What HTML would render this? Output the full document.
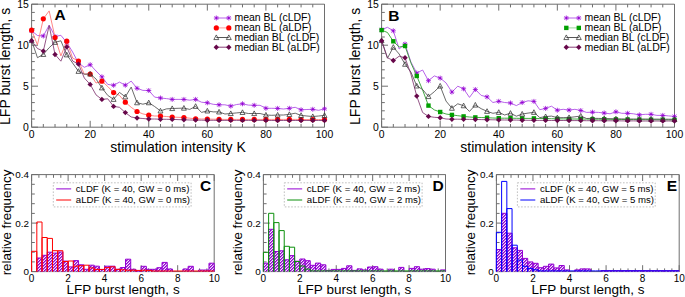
<!DOCTYPE html><html><head><meta charset="utf-8"><style>html,body{margin:0;padding:0;background:#fff;width:685px;height:297px;overflow:hidden}svg{display:block}text{font-family:'Liberation Sans',sans-serif;fill:#000}</style></head><body>
<svg width="685" height="297" viewBox="0 0 685 297">
<rect width="685" height="297" fill="#fff"/>
<defs><pattern id="hatch" patternUnits="userSpaceOnUse" x="0" y="0" width="3" height="3"><g shape-rendering="crispEdges"><rect width="3" height="3" fill="#f4e8fb"/><rect x="0" y="2" width="1" height="1" fill="#9400d3"/><rect x="1" y="1" width="1" height="1" fill="#9400d3"/><rect x="2" y="0" width="1" height="1" fill="#9400d3"/><rect x="1" y="2" width="1" height="1" fill="#b860e0"/><rect x="2" y="1" width="1" height="1" fill="#b860e0"/><rect x="0" y="0" width="1" height="1" fill="#b860e0"/></g></pattern></defs>
<path d="M31.6,4.2H324.5V127.2H31.6Z" fill="none" stroke="#6e6e6e" stroke-width="1"/>
<path d="M31.60,127.2v-6.4M31.60,4.2v6.4M43.32,127.2v-3.2M43.32,4.2v3.2M55.03,127.2v-3.2M55.03,4.2v3.2M66.75,127.2v-3.2M66.75,4.2v3.2M78.46,127.2v-3.2M78.46,4.2v3.2M90.18,127.2v-6.4M90.18,4.2v6.4M101.90,127.2v-3.2M101.90,4.2v3.2M113.61,127.2v-3.2M113.61,4.2v3.2M125.33,127.2v-3.2M125.33,4.2v3.2M137.04,127.2v-3.2M137.04,4.2v3.2M148.76,127.2v-6.4M148.76,4.2v6.4M160.48,127.2v-3.2M160.48,4.2v3.2M172.19,127.2v-3.2M172.19,4.2v3.2M183.91,127.2v-3.2M183.91,4.2v3.2M195.62,127.2v-3.2M195.62,4.2v3.2M207.34,127.2v-6.4M207.34,4.2v6.4M219.06,127.2v-3.2M219.06,4.2v3.2M230.77,127.2v-3.2M230.77,4.2v3.2M242.49,127.2v-3.2M242.49,4.2v3.2M254.20,127.2v-3.2M254.20,4.2v3.2M265.92,127.2v-6.4M265.92,4.2v6.4M277.64,127.2v-3.2M277.64,4.2v3.2M289.35,127.2v-3.2M289.35,4.2v3.2M301.07,127.2v-3.2M301.07,4.2v3.2M312.78,127.2v-3.2M312.78,4.2v3.2M324.50,127.2v-6.4M324.50,4.2v6.4M31.6,127.20h6.4M31.6,119.00h3.2M31.6,110.80h3.2M31.6,102.60h3.2M31.6,94.40h3.2M31.6,86.20h6.4M31.6,78.00h3.2M31.6,69.80h3.2M31.6,61.60h3.2M31.6,53.40h3.2M31.6,45.20h6.4M31.6,37.00h3.2M31.6,28.80h3.2M31.6,20.60h3.2M31.6,12.40h3.2M31.6,4.20h6.4" stroke="#6e6e6e" stroke-width="1" fill="none"/>
<text x="31.60" y="138.2" font-size="10.4" text-anchor="middle" font-weight="normal" >0</text>
<text x="90.18" y="138.2" font-size="10.4" text-anchor="middle" font-weight="normal" >20</text>
<text x="148.76" y="138.2" font-size="10.4" text-anchor="middle" font-weight="normal" >40</text>
<text x="207.34" y="138.2" font-size="10.4" text-anchor="middle" font-weight="normal" >60</text>
<text x="265.92" y="138.2" font-size="10.4" text-anchor="middle" font-weight="normal" >80</text>
<text x="324.50" y="138.2" font-size="10.4" text-anchor="middle" font-weight="normal" >100</text>
<text x="28.80" y="130.90" font-size="10.4" text-anchor="end" font-weight="normal" >0</text>
<text x="28.80" y="89.90" font-size="10.4" text-anchor="end" font-weight="normal" >5</text>
<text x="28.80" y="48.90" font-size="10.4" text-anchor="end" font-weight="normal" >10</text>
<text x="28.80" y="7.90" font-size="10.4" text-anchor="end" font-weight="normal" >15</text>
<text x="178.05" y="151.8" font-size="14" text-anchor="middle" font-weight="normal" >stimulation intensity K</text>
<text transform="translate(10.4,66.3) rotate(-90)" font-size="14" text-anchor="middle">LFP burst length, s</text>
<text x="54.5" y="19.8" font-size="15.5" text-anchor="start" font-weight="bold" >A</text>
<path d="M381.6,4.2H674.5V127.2H381.6Z" fill="none" stroke="#6e6e6e" stroke-width="1"/>
<path d="M381.60,127.2v-6.4M381.60,4.2v6.4M393.32,127.2v-3.2M393.32,4.2v3.2M405.03,127.2v-3.2M405.03,4.2v3.2M416.75,127.2v-3.2M416.75,4.2v3.2M428.46,127.2v-3.2M428.46,4.2v3.2M440.18,127.2v-6.4M440.18,4.2v6.4M451.90,127.2v-3.2M451.90,4.2v3.2M463.61,127.2v-3.2M463.61,4.2v3.2M475.33,127.2v-3.2M475.33,4.2v3.2M487.04,127.2v-3.2M487.04,4.2v3.2M498.76,127.2v-6.4M498.76,4.2v6.4M510.48,127.2v-3.2M510.48,4.2v3.2M522.19,127.2v-3.2M522.19,4.2v3.2M533.91,127.2v-3.2M533.91,4.2v3.2M545.62,127.2v-3.2M545.62,4.2v3.2M557.34,127.2v-6.4M557.34,4.2v6.4M569.06,127.2v-3.2M569.06,4.2v3.2M580.77,127.2v-3.2M580.77,4.2v3.2M592.49,127.2v-3.2M592.49,4.2v3.2M604.20,127.2v-3.2M604.20,4.2v3.2M615.92,127.2v-6.4M615.92,4.2v6.4M627.64,127.2v-3.2M627.64,4.2v3.2M639.35,127.2v-3.2M639.35,4.2v3.2M651.07,127.2v-3.2M651.07,4.2v3.2M662.78,127.2v-3.2M662.78,4.2v3.2M674.50,127.2v-6.4M674.50,4.2v6.4M381.6,127.20h6.4M381.6,119.00h3.2M381.6,110.80h3.2M381.6,102.60h3.2M381.6,94.40h3.2M381.6,86.20h6.4M381.6,78.00h3.2M381.6,69.80h3.2M381.6,61.60h3.2M381.6,53.40h3.2M381.6,45.20h6.4M381.6,37.00h3.2M381.6,28.80h3.2M381.6,20.60h3.2M381.6,12.40h3.2M381.6,4.20h6.4" stroke="#6e6e6e" stroke-width="1" fill="none"/>
<text x="381.60" y="138.2" font-size="10.4" text-anchor="middle" font-weight="normal" >0</text>
<text x="440.18" y="138.2" font-size="10.4" text-anchor="middle" font-weight="normal" >20</text>
<text x="498.76" y="138.2" font-size="10.4" text-anchor="middle" font-weight="normal" >40</text>
<text x="557.34" y="138.2" font-size="10.4" text-anchor="middle" font-weight="normal" >60</text>
<text x="615.92" y="138.2" font-size="10.4" text-anchor="middle" font-weight="normal" >80</text>
<text x="674.50" y="138.2" font-size="10.4" text-anchor="middle" font-weight="normal" >100</text>
<text x="378.80" y="130.90" font-size="10.4" text-anchor="end" font-weight="normal" >0</text>
<text x="378.80" y="89.90" font-size="10.4" text-anchor="end" font-weight="normal" >5</text>
<text x="378.80" y="48.90" font-size="10.4" text-anchor="end" font-weight="normal" >10</text>
<text x="378.80" y="7.90" font-size="10.4" text-anchor="end" font-weight="normal" >15</text>
<text x="528.05" y="151.8" font-size="14" text-anchor="middle" font-weight="normal" >stimulation intensity K</text>
<text transform="translate(360.4,66.3) rotate(-90)" font-size="14" text-anchor="middle">LFP burst length, s</text>
<text x="388.3" y="20.7" font-size="15.5" text-anchor="start" font-weight="bold" >B</text>
<path d="M31.60,30.80L37.46,35.50L43.32,36.00L49.17,25.20L55.03,36.50L60.89,35.30L66.75,42.50L72.61,52.00L78.46,63.00L84.32,67.30L90.18,64.70L96.04,71.00L101.90,76.80L107.75,84.40L113.61,85.30L119.47,82.10L125.33,85.20L131.19,81.10L137.04,88.30L142.90,90.40L148.76,90.50L154.62,97.10L160.48,98.00L166.33,98.60L172.19,99.40L178.05,99.40L183.91,99.40L189.77,100.20L195.62,99.40L201.48,102.20L207.34,102.80L213.20,104.30L219.06,104.80L224.91,104.80L230.77,106.10L236.63,104.50L242.49,103.80L248.35,105.10L254.20,105.30L260.06,105.30L265.92,108.30L271.78,108.30L277.64,108.40L283.49,109.00L289.35,108.30L295.21,107.30L301.07,109.80L306.93,109.50L312.78,109.30L318.64,110.30L324.50,108.80" fill="none" stroke="#b050e8" stroke-width="0.9" stroke-linejoin="round"/>
<path d="M29.10,30.80h5.00M31.60,28.30v5.00M29.73,28.93l3.75,3.75M29.73,32.67l3.75,-3.75" stroke="#9400d3" stroke-width="0.75" fill="none"/><circle cx="31.60" cy="30.80" r="0.7" fill="#9400d3"/>
<path d="M40.82,36.00h5.00M43.32,33.50v5.00M41.45,34.12l3.75,3.75M41.45,37.88l3.75,-3.75" stroke="#9400d3" stroke-width="0.75" fill="none"/><circle cx="43.32" cy="36.00" r="0.7" fill="#9400d3"/>
<path d="M52.53,36.50h5.00M55.03,34.00v5.00M53.16,34.62l3.75,3.75M53.16,38.38l3.75,-3.75" stroke="#9400d3" stroke-width="0.75" fill="none"/><circle cx="55.03" cy="36.50" r="0.7" fill="#9400d3"/>
<path d="M64.25,42.50h5.00M66.75,40.00v5.00M64.88,40.62l3.75,3.75M64.88,44.38l3.75,-3.75" stroke="#9400d3" stroke-width="0.75" fill="none"/><circle cx="66.75" cy="42.50" r="0.7" fill="#9400d3"/>
<path d="M75.96,63.00h5.00M78.46,60.50v5.00M76.58,61.12l3.75,3.75M76.58,64.88l3.75,-3.75" stroke="#9400d3" stroke-width="0.75" fill="none"/><circle cx="78.46" cy="63.00" r="0.7" fill="#9400d3"/>
<path d="M87.68,64.70h5.00M90.18,62.20v5.00M88.31,62.83l3.75,3.75M88.31,66.58l3.75,-3.75" stroke="#9400d3" stroke-width="0.75" fill="none"/><circle cx="90.18" cy="64.70" r="0.7" fill="#9400d3"/>
<path d="M99.40,76.80h5.00M101.90,74.30v5.00M100.03,74.92l3.75,3.75M100.03,78.67l3.75,-3.75" stroke="#9400d3" stroke-width="0.75" fill="none"/><circle cx="101.90" cy="76.80" r="0.7" fill="#9400d3"/>
<path d="M111.11,85.30h5.00M113.61,82.80v5.00M111.73,83.42l3.75,3.75M111.73,87.17l3.75,-3.75" stroke="#9400d3" stroke-width="0.75" fill="none"/><circle cx="113.61" cy="85.30" r="0.7" fill="#9400d3"/>
<path d="M122.83,85.20h5.00M125.33,82.70v5.00M123.45,83.33l3.75,3.75M123.45,87.08l3.75,-3.75" stroke="#9400d3" stroke-width="0.75" fill="none"/><circle cx="125.33" cy="85.20" r="0.7" fill="#9400d3"/>
<path d="M134.54,88.30h5.00M137.04,85.80v5.00M135.16,86.42l3.75,3.75M135.16,90.17l3.75,-3.75" stroke="#9400d3" stroke-width="0.75" fill="none"/><circle cx="137.04" cy="88.30" r="0.7" fill="#9400d3"/>
<path d="M146.26,90.50h5.00M148.76,88.00v5.00M146.88,88.62l3.75,3.75M146.88,92.38l3.75,-3.75" stroke="#9400d3" stroke-width="0.75" fill="none"/><circle cx="148.76" cy="90.50" r="0.7" fill="#9400d3"/>
<path d="M157.98,98.00h5.00M160.48,95.50v5.00M158.60,96.12l3.75,3.75M158.60,99.88l3.75,-3.75" stroke="#9400d3" stroke-width="0.75" fill="none"/><circle cx="160.48" cy="98.00" r="0.7" fill="#9400d3"/>
<path d="M169.69,99.40h5.00M172.19,96.90v5.00M170.31,97.53l3.75,3.75M170.31,101.28l3.75,-3.75" stroke="#9400d3" stroke-width="0.75" fill="none"/><circle cx="172.19" cy="99.40" r="0.7" fill="#9400d3"/>
<path d="M181.41,99.40h5.00M183.91,96.90v5.00M182.03,97.53l3.75,3.75M182.03,101.28l3.75,-3.75" stroke="#9400d3" stroke-width="0.75" fill="none"/><circle cx="183.91" cy="99.40" r="0.7" fill="#9400d3"/>
<path d="M193.12,99.40h5.00M195.62,96.90v5.00M193.75,97.53l3.75,3.75M193.75,101.28l3.75,-3.75" stroke="#9400d3" stroke-width="0.75" fill="none"/><circle cx="195.62" cy="99.40" r="0.7" fill="#9400d3"/>
<path d="M204.84,102.80h5.00M207.34,100.30v5.00M205.47,100.92l3.75,3.75M205.47,104.67l3.75,-3.75" stroke="#9400d3" stroke-width="0.75" fill="none"/><circle cx="207.34" cy="102.80" r="0.7" fill="#9400d3"/>
<path d="M216.56,104.80h5.00M219.06,102.30v5.00M217.19,102.92l3.75,3.75M217.19,106.67l3.75,-3.75" stroke="#9400d3" stroke-width="0.75" fill="none"/><circle cx="219.06" cy="104.80" r="0.7" fill="#9400d3"/>
<path d="M228.27,106.10h5.00M230.77,103.60v5.00M228.90,104.22l3.75,3.75M228.90,107.97l3.75,-3.75" stroke="#9400d3" stroke-width="0.75" fill="none"/><circle cx="230.77" cy="106.10" r="0.7" fill="#9400d3"/>
<path d="M239.99,103.80h5.00M242.49,101.30v5.00M240.62,101.92l3.75,3.75M240.62,105.67l3.75,-3.75" stroke="#9400d3" stroke-width="0.75" fill="none"/><circle cx="242.49" cy="103.80" r="0.7" fill="#9400d3"/>
<path d="M251.70,105.30h5.00M254.20,102.80v5.00M252.32,103.42l3.75,3.75M252.32,107.17l3.75,-3.75" stroke="#9400d3" stroke-width="0.75" fill="none"/><circle cx="254.20" cy="105.30" r="0.7" fill="#9400d3"/>
<path d="M263.42,108.30h5.00M265.92,105.80v5.00M264.05,106.42l3.75,3.75M264.05,110.17l3.75,-3.75" stroke="#9400d3" stroke-width="0.75" fill="none"/><circle cx="265.92" cy="108.30" r="0.7" fill="#9400d3"/>
<path d="M275.14,108.40h5.00M277.64,105.90v5.00M275.76,106.53l3.75,3.75M275.76,110.28l3.75,-3.75" stroke="#9400d3" stroke-width="0.75" fill="none"/><circle cx="277.64" cy="108.40" r="0.7" fill="#9400d3"/>
<path d="M286.85,108.30h5.00M289.35,105.80v5.00M287.48,106.42l3.75,3.75M287.48,110.17l3.75,-3.75" stroke="#9400d3" stroke-width="0.75" fill="none"/><circle cx="289.35" cy="108.30" r="0.7" fill="#9400d3"/>
<path d="M298.57,109.80h5.00M301.07,107.30v5.00M299.19,107.92l3.75,3.75M299.19,111.67l3.75,-3.75" stroke="#9400d3" stroke-width="0.75" fill="none"/><circle cx="301.07" cy="109.80" r="0.7" fill="#9400d3"/>
<path d="M310.28,109.30h5.00M312.78,106.80v5.00M310.90,107.42l3.75,3.75M310.90,111.17l3.75,-3.75" stroke="#9400d3" stroke-width="0.75" fill="none"/><circle cx="312.78" cy="109.30" r="0.7" fill="#9400d3"/>
<path d="M322.00,108.80h5.00M324.50,106.30v5.00M322.62,106.92l3.75,3.75M322.62,110.67l3.75,-3.75" stroke="#9400d3" stroke-width="0.75" fill="none"/><circle cx="324.50" cy="108.80" r="0.7" fill="#9400d3"/>
<path d="M31.60,30.20L37.46,44.80L43.32,18.80L49.17,10.90L55.03,37.50L60.89,55.90L66.75,41.20L72.61,58.00L78.46,61.00L84.32,74.10L90.18,74.00L96.04,83.00L101.90,81.20L107.75,86.50L113.61,92.60L119.47,95.40L125.33,102.20L131.19,107.30L137.04,111.50L142.90,113.90L148.76,115.20L154.62,116.00L160.48,116.00L166.33,116.50L172.19,117.00L178.05,117.30L183.91,117.50L189.77,118.20L195.62,118.80L201.48,119.00L207.34,119.00L213.20,119.20L219.06,119.30L224.91,119.40L230.77,119.40L236.63,119.40L242.49,119.40L248.35,119.40L254.20,119.40L260.06,119.40L265.92,119.40L271.78,119.40L277.64,119.40L283.49,119.40L289.35,119.40L295.21,119.40L301.07,119.50L306.93,119.50L312.78,119.50L318.64,119.50L324.50,119.50" fill="none" stroke="#ff7070" stroke-width="0.85" stroke-linejoin="round"/>
<circle cx="31.6" cy="30.2" r="2.6" fill="#ff0000"/>
<circle cx="43.32" cy="18.8" r="2.6" fill="#ff0000"/>
<circle cx="55.03" cy="37.5" r="2.6" fill="#ff0000"/>
<circle cx="66.75" cy="41.2" r="2.6" fill="#ff0000"/>
<circle cx="78.46" cy="61.0" r="2.6" fill="#ff0000"/>
<circle cx="90.18" cy="74.0" r="2.6" fill="#ff0000"/>
<circle cx="101.9" cy="81.2" r="2.6" fill="#ff0000"/>
<circle cx="113.61" cy="92.6" r="2.6" fill="#ff0000"/>
<circle cx="125.33" cy="102.2" r="2.6" fill="#ff0000"/>
<circle cx="137.04" cy="111.5" r="2.6" fill="#ff0000"/>
<circle cx="148.76" cy="115.2" r="2.6" fill="#ff0000"/>
<circle cx="160.48" cy="116.0" r="2.6" fill="#ff0000"/>
<circle cx="172.19" cy="117.0" r="2.6" fill="#ff0000"/>
<circle cx="183.91" cy="117.5" r="2.6" fill="#ff0000"/>
<circle cx="195.62" cy="118.8" r="2.6" fill="#ff0000"/>
<circle cx="207.34" cy="119.0" r="2.6" fill="#ff0000"/>
<circle cx="219.06" cy="119.3" r="2.6" fill="#ff0000"/>
<circle cx="230.77" cy="119.4" r="2.6" fill="#ff0000"/>
<circle cx="242.49" cy="119.4" r="2.6" fill="#ff0000"/>
<circle cx="254.2" cy="119.4" r="2.6" fill="#ff0000"/>
<circle cx="265.92" cy="119.4" r="2.6" fill="#ff0000"/>
<circle cx="277.64" cy="119.4" r="2.6" fill="#ff0000"/>
<circle cx="289.35" cy="119.4" r="2.6" fill="#ff0000"/>
<circle cx="301.07" cy="119.5" r="2.6" fill="#ff0000"/>
<circle cx="312.78" cy="119.5" r="2.6" fill="#ff0000"/>
<circle cx="324.5" cy="119.5" r="2.6" fill="#ff0000"/>
<path d="M31.60,40.50L37.46,57.70L43.32,54.40L49.17,47.70L55.03,42.30L60.89,40.80L66.75,54.80L72.61,63.00L78.46,71.30L84.32,74.20L90.18,74.00L96.04,79.00L101.90,87.80L107.75,95.40L113.61,99.30L119.47,92.40L125.33,96.80L131.19,87.10L137.04,102.70L142.90,104.20L148.76,102.70L154.62,106.50L160.48,110.90L166.33,108.90L172.19,108.50L178.05,108.30L183.91,108.10L189.77,109.40L195.62,106.30L201.48,112.40L207.34,110.90L213.20,111.90L219.06,111.90L224.91,114.00L230.77,113.50L236.63,112.90L242.49,112.40L248.35,113.50L254.20,113.50L260.06,113.50L265.92,115.00L271.78,115.30L277.64,115.00L283.49,115.00L289.35,114.40L295.21,113.20L301.07,115.40L306.93,116.00L312.78,116.50L318.64,116.00L324.50,115.40" fill="none" stroke="#444" stroke-width="0.8" stroke-linejoin="round"/>
<path d="M31.60,37.93L34.05,42.58H29.15Z" fill="none" stroke="#333" stroke-width="0.75"/>
<path d="M43.32,51.83L45.77,56.48H40.87Z" fill="none" stroke="#333" stroke-width="0.75"/>
<path d="M55.03,39.73L57.48,44.38H52.58Z" fill="none" stroke="#333" stroke-width="0.75"/>
<path d="M66.75,52.23L69.20,56.88H64.30Z" fill="none" stroke="#333" stroke-width="0.75"/>
<path d="M78.46,68.73L80.91,73.38H76.01Z" fill="none" stroke="#333" stroke-width="0.75"/>
<path d="M90.18,71.43L92.63,76.08H87.73Z" fill="none" stroke="#333" stroke-width="0.75"/>
<path d="M101.90,85.23L104.35,89.88H99.45Z" fill="none" stroke="#333" stroke-width="0.75"/>
<path d="M113.61,96.73L116.06,101.38H111.16Z" fill="none" stroke="#333" stroke-width="0.75"/>
<path d="M125.33,94.23L127.78,98.88H122.88Z" fill="none" stroke="#333" stroke-width="0.75"/>
<path d="M137.04,100.13L139.49,104.78H134.59Z" fill="none" stroke="#333" stroke-width="0.75"/>
<path d="M148.76,100.13L151.21,104.78H146.31Z" fill="none" stroke="#333" stroke-width="0.75"/>
<path d="M160.48,108.33L162.93,112.98H158.03Z" fill="none" stroke="#333" stroke-width="0.75"/>
<path d="M172.19,105.93L174.64,110.58H169.74Z" fill="none" stroke="#333" stroke-width="0.75"/>
<path d="M183.91,105.53L186.36,110.18H181.46Z" fill="none" stroke="#333" stroke-width="0.75"/>
<path d="M195.62,103.73L198.07,108.38H193.17Z" fill="none" stroke="#333" stroke-width="0.75"/>
<path d="M207.34,108.33L209.79,112.98H204.89Z" fill="none" stroke="#333" stroke-width="0.75"/>
<path d="M219.06,109.33L221.51,113.98H216.61Z" fill="none" stroke="#333" stroke-width="0.75"/>
<path d="M230.77,110.93L233.22,115.58H228.32Z" fill="none" stroke="#333" stroke-width="0.75"/>
<path d="M242.49,109.83L244.94,114.48H240.04Z" fill="none" stroke="#333" stroke-width="0.75"/>
<path d="M254.20,110.93L256.65,115.58H251.75Z" fill="none" stroke="#333" stroke-width="0.75"/>
<path d="M265.92,112.43L268.37,117.08H263.47Z" fill="none" stroke="#333" stroke-width="0.75"/>
<path d="M277.64,112.43L280.09,117.08H275.19Z" fill="none" stroke="#333" stroke-width="0.75"/>
<path d="M289.35,111.83L291.80,116.48H286.90Z" fill="none" stroke="#333" stroke-width="0.75"/>
<path d="M301.07,112.83L303.52,117.48H298.62Z" fill="none" stroke="#333" stroke-width="0.75"/>
<path d="M312.78,113.93L315.23,118.58H310.33Z" fill="none" stroke="#333" stroke-width="0.75"/>
<path d="M324.50,112.83L326.95,117.48H322.05Z" fill="none" stroke="#333" stroke-width="0.75"/>
<path d="M31.60,40.80L37.46,48.50L43.32,51.10L49.17,25.50L55.03,54.50L60.89,61.20L66.75,46.90L72.61,61.00L78.46,64.10L84.32,78.00L90.18,84.40L96.04,94.90L101.90,99.40L107.75,98.80L113.61,106.40L119.47,107.30L125.33,112.60L131.19,117.00L137.04,118.00L142.90,118.50L148.76,119.00L154.62,119.00L160.48,119.20L166.33,119.30L172.19,119.40L178.05,119.60L183.91,119.80L189.77,120.00L195.62,120.10L201.48,120.20L207.34,120.30L213.20,120.30L219.06,120.40L224.91,120.40L230.77,120.40L236.63,120.40L242.49,120.40L248.35,120.40L254.20,120.40L260.06,120.40L265.92,120.40L271.78,120.50L277.64,120.50L283.49,120.50L289.35,120.50L295.21,120.50L301.07,120.50L306.93,120.50L312.78,120.50L318.64,120.50L324.50,120.50" fill="none" stroke="#7a2a68" stroke-width="0.8" stroke-linejoin="round"/>
<path d="M31.6,38.099999999999994L34.300000000000004,40.8L31.6,43.5L28.900000000000002,40.8Z" fill="#67074a"/>
<path d="M43.32,48.4L46.02,51.1L43.32,53.800000000000004L40.62,51.1Z" fill="#67074a"/>
<path d="M55.03,51.8L57.730000000000004,54.5L55.03,57.2L52.33,54.5Z" fill="#67074a"/>
<path d="M66.75,44.199999999999996L69.45,46.9L66.75,49.6L64.05,46.9Z" fill="#67074a"/>
<path d="M78.46,61.39999999999999L81.16,64.1L78.46,66.8L75.75999999999999,64.1Z" fill="#67074a"/>
<path d="M90.18,81.7L92.88000000000001,84.4L90.18,87.10000000000001L87.48,84.4Z" fill="#67074a"/>
<path d="M101.9,96.7L104.60000000000001,99.4L101.9,102.10000000000001L99.2,99.4Z" fill="#67074a"/>
<path d="M113.61,103.7L116.31,106.4L113.61,109.10000000000001L110.91,106.4Z" fill="#67074a"/>
<path d="M125.33,109.89999999999999L128.03,112.6L125.33,115.3L122.63,112.6Z" fill="#67074a"/>
<path d="M137.04,115.3L139.73999999999998,118.0L137.04,120.7L134.34,118.0Z" fill="#67074a"/>
<path d="M148.76,116.3L151.45999999999998,119.0L148.76,121.7L146.06,119.0Z" fill="#67074a"/>
<path d="M160.48,116.5L163.17999999999998,119.2L160.48,121.9L157.78,119.2Z" fill="#67074a"/>
<path d="M172.19,116.7L174.89,119.4L172.19,122.10000000000001L169.49,119.4Z" fill="#67074a"/>
<path d="M183.91,117.1L186.60999999999999,119.8L183.91,122.5L181.21,119.8Z" fill="#67074a"/>
<path d="M195.62,117.39999999999999L198.32,120.1L195.62,122.8L192.92000000000002,120.1Z" fill="#67074a"/>
<path d="M207.34,117.6L210.04,120.3L207.34,123.0L204.64000000000001,120.3Z" fill="#67074a"/>
<path d="M219.06,117.7L221.76,120.4L219.06,123.10000000000001L216.36,120.4Z" fill="#67074a"/>
<path d="M230.77,117.7L233.47,120.4L230.77,123.10000000000001L228.07000000000002,120.4Z" fill="#67074a"/>
<path d="M242.49,117.7L245.19,120.4L242.49,123.10000000000001L239.79000000000002,120.4Z" fill="#67074a"/>
<path d="M254.2,117.7L256.9,120.4L254.2,123.10000000000001L251.5,120.4Z" fill="#67074a"/>
<path d="M265.92,117.7L268.62,120.4L265.92,123.10000000000001L263.22,120.4Z" fill="#67074a"/>
<path d="M277.64,117.8L280.34,120.5L277.64,123.2L274.94,120.5Z" fill="#67074a"/>
<path d="M289.35,117.8L292.05,120.5L289.35,123.2L286.65000000000003,120.5Z" fill="#67074a"/>
<path d="M301.07,117.8L303.77,120.5L301.07,123.2L298.37,120.5Z" fill="#67074a"/>
<path d="M312.78,117.8L315.47999999999996,120.5L312.78,123.2L310.08,120.5Z" fill="#67074a"/>
<path d="M324.5,117.8L327.2,120.5L324.5,123.2L321.8,120.5Z" fill="#67074a"/>
<path d="M216.3,18.0H228.8" stroke="#b050e8" stroke-width="0.9"/>
<path d="M213.80,18.00h5.00M216.30,15.50v5.00M214.43,16.12l3.75,3.75M214.43,19.88l3.75,-3.75" stroke="#9400d3" stroke-width="0.75" fill="none"/><circle cx="216.30" cy="18.00" r="0.7" fill="#9400d3"/>
<path d="M226.30,18.00h5.00M228.80,15.50v5.00M226.93,16.12l3.75,3.75M226.93,19.88l3.75,-3.75" stroke="#9400d3" stroke-width="0.75" fill="none"/><circle cx="228.80" cy="18.00" r="0.7" fill="#9400d3"/>
<text x="234.4" y="21.3" font-size="10.5" text-anchor="start" font-weight="normal" >mean BL (cLDF)</text>
<path d="M216.3,27.9H228.8" stroke="#ff9090" stroke-width="0.9"/>
<circle cx="216.3" cy="27.9" r="2.6" fill="#ff0000"/>
<circle cx="228.8" cy="27.9" r="2.6" fill="#ff0000"/>
<text x="234.4" y="31.2" font-size="10.5" text-anchor="start" font-weight="normal" >mean BL (aLDF)</text>
<path d="M216.3,37.5H228.8" stroke="#444" stroke-width="0.9"/>
<path d="M216.30,34.93L218.75,39.58H213.85Z" fill="none" stroke="#333" stroke-width="0.75"/>
<path d="M228.80,34.93L231.25,39.58H226.35Z" fill="none" stroke="#333" stroke-width="0.75"/>
<text x="234.4" y="40.8" font-size="10.5" text-anchor="start" font-weight="normal" >median BL (cLDF)</text>
<path d="M216.3,47.2H228.8" stroke="#7a2a68" stroke-width="0.9"/>
<path d="M216.3,44.5L219.0,47.2L216.3,49.900000000000006L213.60000000000002,47.2Z" fill="#67074a"/>
<path d="M228.8,44.5L231.5,47.2L228.8,49.900000000000006L226.10000000000002,47.2Z" fill="#67074a"/>
<text x="234.4" y="50.5" font-size="10.5" text-anchor="start" font-weight="normal" >median BL (aLDF)</text>
<path d="M381.60,29.70L387.46,27.30L393.32,30.80L399.17,49.00L405.03,44.00L410.89,62.00L416.75,73.00L422.61,70.00L428.46,80.70L434.32,75.90L440.18,78.10L446.04,82.90L451.90,92.10L457.75,86.20L463.61,88.80L469.47,97.40L475.33,89.50L481.19,95.40L487.04,96.90L492.90,102.50L498.76,101.30L504.62,102.50L510.48,103.00L516.33,105.60L522.19,102.50L528.05,100.80L533.91,101.40L539.77,109.70L545.62,108.40L551.48,106.20L557.34,110.20L563.20,109.30L569.06,110.10L574.91,109.30L580.77,110.50L586.63,112.40L592.49,112.20L598.35,112.40L604.20,113.00L610.06,113.80L615.92,111.80L621.78,113.30L627.64,113.30L633.49,113.80L639.35,114.90L645.21,114.30L651.07,114.30L656.93,115.40L662.78,115.40L668.64,115.90L674.50,116.40" fill="none" stroke="#b050e8" stroke-width="0.9" stroke-linejoin="round"/>
<path d="M379.10,29.70h5.00M381.60,27.20v5.00M379.73,27.82l3.75,3.75M379.73,31.57l3.75,-3.75" stroke="#9400d3" stroke-width="0.75" fill="none"/><circle cx="381.60" cy="29.70" r="0.7" fill="#9400d3"/>
<path d="M390.82,30.80h5.00M393.32,28.30v5.00M391.44,28.93l3.75,3.75M391.44,32.67l3.75,-3.75" stroke="#9400d3" stroke-width="0.75" fill="none"/><circle cx="393.32" cy="30.80" r="0.7" fill="#9400d3"/>
<path d="M402.53,44.00h5.00M405.03,41.50v5.00M403.15,42.12l3.75,3.75M403.15,45.88l3.75,-3.75" stroke="#9400d3" stroke-width="0.75" fill="none"/><circle cx="405.03" cy="44.00" r="0.7" fill="#9400d3"/>
<path d="M414.25,73.00h5.00M416.75,70.50v5.00M414.88,71.12l3.75,3.75M414.88,74.88l3.75,-3.75" stroke="#9400d3" stroke-width="0.75" fill="none"/><circle cx="416.75" cy="73.00" r="0.7" fill="#9400d3"/>
<path d="M425.96,80.70h5.00M428.46,78.20v5.00M426.58,78.83l3.75,3.75M426.58,82.58l3.75,-3.75" stroke="#9400d3" stroke-width="0.75" fill="none"/><circle cx="428.46" cy="80.70" r="0.7" fill="#9400d3"/>
<path d="M437.68,78.10h5.00M440.18,75.60v5.00M438.31,76.22l3.75,3.75M438.31,79.97l3.75,-3.75" stroke="#9400d3" stroke-width="0.75" fill="none"/><circle cx="440.18" cy="78.10" r="0.7" fill="#9400d3"/>
<path d="M449.40,92.10h5.00M451.90,89.60v5.00M450.02,90.22l3.75,3.75M450.02,93.97l3.75,-3.75" stroke="#9400d3" stroke-width="0.75" fill="none"/><circle cx="451.90" cy="92.10" r="0.7" fill="#9400d3"/>
<path d="M461.11,88.80h5.00M463.61,86.30v5.00M461.74,86.92l3.75,3.75M461.74,90.67l3.75,-3.75" stroke="#9400d3" stroke-width="0.75" fill="none"/><circle cx="463.61" cy="88.80" r="0.7" fill="#9400d3"/>
<path d="M472.83,89.50h5.00M475.33,87.00v5.00M473.45,87.62l3.75,3.75M473.45,91.38l3.75,-3.75" stroke="#9400d3" stroke-width="0.75" fill="none"/><circle cx="475.33" cy="89.50" r="0.7" fill="#9400d3"/>
<path d="M484.54,96.90h5.00M487.04,94.40v5.00M485.17,95.03l3.75,3.75M485.17,98.78l3.75,-3.75" stroke="#9400d3" stroke-width="0.75" fill="none"/><circle cx="487.04" cy="96.90" r="0.7" fill="#9400d3"/>
<path d="M496.26,101.30h5.00M498.76,98.80v5.00M496.88,99.42l3.75,3.75M496.88,103.17l3.75,-3.75" stroke="#9400d3" stroke-width="0.75" fill="none"/><circle cx="498.76" cy="101.30" r="0.7" fill="#9400d3"/>
<path d="M507.98,103.00h5.00M510.48,100.50v5.00M508.61,101.12l3.75,3.75M508.61,104.88l3.75,-3.75" stroke="#9400d3" stroke-width="0.75" fill="none"/><circle cx="510.48" cy="103.00" r="0.7" fill="#9400d3"/>
<path d="M519.69,102.50h5.00M522.19,100.00v5.00M520.32,100.62l3.75,3.75M520.32,104.38l3.75,-3.75" stroke="#9400d3" stroke-width="0.75" fill="none"/><circle cx="522.19" cy="102.50" r="0.7" fill="#9400d3"/>
<path d="M531.41,101.40h5.00M533.91,98.90v5.00M532.03,99.53l3.75,3.75M532.03,103.28l3.75,-3.75" stroke="#9400d3" stroke-width="0.75" fill="none"/><circle cx="533.91" cy="101.40" r="0.7" fill="#9400d3"/>
<path d="M543.12,108.40h5.00M545.62,105.90v5.00M543.75,106.53l3.75,3.75M543.75,110.28l3.75,-3.75" stroke="#9400d3" stroke-width="0.75" fill="none"/><circle cx="545.62" cy="108.40" r="0.7" fill="#9400d3"/>
<path d="M554.84,110.20h5.00M557.34,107.70v5.00M555.47,108.33l3.75,3.75M555.47,112.08l3.75,-3.75" stroke="#9400d3" stroke-width="0.75" fill="none"/><circle cx="557.34" cy="110.20" r="0.7" fill="#9400d3"/>
<path d="M566.56,110.10h5.00M569.06,107.60v5.00M567.18,108.22l3.75,3.75M567.18,111.97l3.75,-3.75" stroke="#9400d3" stroke-width="0.75" fill="none"/><circle cx="569.06" cy="110.10" r="0.7" fill="#9400d3"/>
<path d="M578.27,110.50h5.00M580.77,108.00v5.00M578.89,108.62l3.75,3.75M578.89,112.38l3.75,-3.75" stroke="#9400d3" stroke-width="0.75" fill="none"/><circle cx="580.77" cy="110.50" r="0.7" fill="#9400d3"/>
<path d="M589.99,112.20h5.00M592.49,109.70v5.00M590.62,110.33l3.75,3.75M590.62,114.08l3.75,-3.75" stroke="#9400d3" stroke-width="0.75" fill="none"/><circle cx="592.49" cy="112.20" r="0.7" fill="#9400d3"/>
<path d="M601.70,113.00h5.00M604.20,110.50v5.00M602.33,111.12l3.75,3.75M602.33,114.88l3.75,-3.75" stroke="#9400d3" stroke-width="0.75" fill="none"/><circle cx="604.20" cy="113.00" r="0.7" fill="#9400d3"/>
<path d="M613.42,111.80h5.00M615.92,109.30v5.00M614.04,109.92l3.75,3.75M614.04,113.67l3.75,-3.75" stroke="#9400d3" stroke-width="0.75" fill="none"/><circle cx="615.92" cy="111.80" r="0.7" fill="#9400d3"/>
<path d="M625.14,113.30h5.00M627.64,110.80v5.00M625.76,111.42l3.75,3.75M625.76,115.17l3.75,-3.75" stroke="#9400d3" stroke-width="0.75" fill="none"/><circle cx="627.64" cy="113.30" r="0.7" fill="#9400d3"/>
<path d="M636.85,114.90h5.00M639.35,112.40v5.00M637.48,113.03l3.75,3.75M637.48,116.78l3.75,-3.75" stroke="#9400d3" stroke-width="0.75" fill="none"/><circle cx="639.35" cy="114.90" r="0.7" fill="#9400d3"/>
<path d="M648.57,114.30h5.00M651.07,111.80v5.00M649.20,112.42l3.75,3.75M649.20,116.17l3.75,-3.75" stroke="#9400d3" stroke-width="0.75" fill="none"/><circle cx="651.07" cy="114.30" r="0.7" fill="#9400d3"/>
<path d="M660.28,115.40h5.00M662.78,112.90v5.00M660.90,113.53l3.75,3.75M660.90,117.28l3.75,-3.75" stroke="#9400d3" stroke-width="0.75" fill="none"/><circle cx="662.78" cy="115.40" r="0.7" fill="#9400d3"/>
<path d="M672.00,116.40h5.00M674.50,113.90v5.00M672.62,114.53l3.75,3.75M672.62,118.28l3.75,-3.75" stroke="#9400d3" stroke-width="0.75" fill="none"/><circle cx="674.50" cy="116.40" r="0.7" fill="#9400d3"/>
<path d="M381.60,30.10L387.46,32.50L393.32,41.30L399.17,47.00L405.03,46.00L410.89,62.80L416.75,76.00L422.61,90.00L428.46,105.60L434.32,109.90L440.18,112.00L446.04,114.00L451.90,114.90L457.75,115.70L463.61,116.40L469.47,117.00L475.33,117.40L481.19,117.50L487.04,117.70L492.90,118.00L498.76,118.20L504.62,118.20L510.48,118.20L516.33,118.30L522.19,118.40L528.05,118.40L533.91,118.40L539.77,118.50L545.62,118.60L551.48,118.70L557.34,118.80L563.20,118.90L569.06,119.00L574.91,119.00L580.77,119.10L586.63,119.10L592.49,119.20L598.35,119.20L604.20,119.30L610.06,119.30L615.92,119.40L621.78,119.50L627.64,119.50L633.49,119.60L639.35,119.60L645.21,119.70L651.07,119.70L656.93,119.80L662.78,119.80L668.64,119.90L674.50,119.90" fill="none" stroke="#30a030" stroke-width="0.9" stroke-linejoin="round"/>
<rect x="379.40000000000003" y="27.900000000000002" width="4.4" height="4.4" fill="#00a000"/>
<rect x="391.12" y="39.099999999999994" width="4.4" height="4.4" fill="#00a000"/>
<rect x="402.83" y="43.8" width="4.4" height="4.4" fill="#00a000"/>
<rect x="414.55" y="73.8" width="4.4" height="4.4" fill="#00a000"/>
<rect x="426.26" y="103.39999999999999" width="4.4" height="4.4" fill="#00a000"/>
<rect x="437.98" y="109.8" width="4.4" height="4.4" fill="#00a000"/>
<rect x="449.7" y="112.7" width="4.4" height="4.4" fill="#00a000"/>
<rect x="461.41" y="114.2" width="4.4" height="4.4" fill="#00a000"/>
<rect x="473.13" y="115.2" width="4.4" height="4.4" fill="#00a000"/>
<rect x="484.84000000000003" y="115.5" width="4.4" height="4.4" fill="#00a000"/>
<rect x="496.56" y="116.0" width="4.4" height="4.4" fill="#00a000"/>
<rect x="508.28000000000003" y="116.0" width="4.4" height="4.4" fill="#00a000"/>
<rect x="519.99" y="116.2" width="4.4" height="4.4" fill="#00a000"/>
<rect x="531.7099999999999" y="116.2" width="4.4" height="4.4" fill="#00a000"/>
<rect x="543.42" y="116.39999999999999" width="4.4" height="4.4" fill="#00a000"/>
<rect x="555.14" y="116.6" width="4.4" height="4.4" fill="#00a000"/>
<rect x="566.8599999999999" y="116.8" width="4.4" height="4.4" fill="#00a000"/>
<rect x="578.5699999999999" y="116.89999999999999" width="4.4" height="4.4" fill="#00a000"/>
<rect x="590.29" y="117.0" width="4.4" height="4.4" fill="#00a000"/>
<rect x="602.0" y="117.1" width="4.4" height="4.4" fill="#00a000"/>
<rect x="613.7199999999999" y="117.2" width="4.4" height="4.4" fill="#00a000"/>
<rect x="625.4399999999999" y="117.3" width="4.4" height="4.4" fill="#00a000"/>
<rect x="637.15" y="117.39999999999999" width="4.4" height="4.4" fill="#00a000"/>
<rect x="648.87" y="117.5" width="4.4" height="4.4" fill="#00a000"/>
<rect x="660.5799999999999" y="117.6" width="4.4" height="4.4" fill="#00a000"/>
<rect x="672.3" y="117.7" width="4.4" height="4.4" fill="#00a000"/>
<path d="M381.60,40.50L387.46,58.20L393.32,47.20L399.17,54.00L405.03,64.20L410.89,72.00L416.75,85.90L422.61,89.50L428.46,96.50L434.32,91.70L440.18,86.00L446.04,101.10L451.90,108.20L457.75,103.80L463.61,105.70L469.47,111.40L475.33,105.00L481.19,108.70L487.04,111.30L492.90,113.30L498.76,112.30L504.62,115.00L510.48,113.20L516.33,116.20L522.19,114.00L528.05,113.10L533.91,112.30L539.77,117.60L545.62,116.60L551.48,116.10L557.34,117.70L563.20,117.60L569.06,117.50L574.91,116.80L580.77,116.00L586.63,118.50L592.49,118.30L598.35,118.40L604.20,118.50L610.06,118.70L615.92,118.80L621.78,118.90L627.64,119.00L633.49,119.00L639.35,119.00L645.21,119.00L651.07,119.10L656.93,119.10L662.78,119.20L668.64,119.20L674.50,119.30" fill="none" stroke="#444" stroke-width="0.8" stroke-linejoin="round"/>
<path d="M381.60,37.93L384.05,42.58H379.15Z" fill="none" stroke="#333" stroke-width="0.75"/>
<path d="M393.32,44.63L395.77,49.28H390.87Z" fill="none" stroke="#333" stroke-width="0.75"/>
<path d="M405.03,61.63L407.48,66.28H402.58Z" fill="none" stroke="#333" stroke-width="0.75"/>
<path d="M416.75,83.33L419.20,87.98H414.30Z" fill="none" stroke="#333" stroke-width="0.75"/>
<path d="M428.46,93.93L430.91,98.58H426.01Z" fill="none" stroke="#333" stroke-width="0.75"/>
<path d="M440.18,83.43L442.63,88.08H437.73Z" fill="none" stroke="#333" stroke-width="0.75"/>
<path d="M451.90,105.63L454.35,110.28H449.45Z" fill="none" stroke="#333" stroke-width="0.75"/>
<path d="M463.61,103.13L466.06,107.78H461.16Z" fill="none" stroke="#333" stroke-width="0.75"/>
<path d="M475.33,102.43L477.78,107.08H472.88Z" fill="none" stroke="#333" stroke-width="0.75"/>
<path d="M487.04,108.73L489.49,113.38H484.59Z" fill="none" stroke="#333" stroke-width="0.75"/>
<path d="M498.76,109.73L501.21,114.38H496.31Z" fill="none" stroke="#333" stroke-width="0.75"/>
<path d="M510.48,110.63L512.93,115.28H508.03Z" fill="none" stroke="#333" stroke-width="0.75"/>
<path d="M522.19,111.43L524.64,116.08H519.74Z" fill="none" stroke="#333" stroke-width="0.75"/>
<path d="M533.91,109.73L536.36,114.38H531.46Z" fill="none" stroke="#333" stroke-width="0.75"/>
<path d="M545.62,114.03L548.07,118.68H543.17Z" fill="none" stroke="#333" stroke-width="0.75"/>
<path d="M557.34,115.13L559.79,119.78H554.89Z" fill="none" stroke="#333" stroke-width="0.75"/>
<path d="M569.06,114.93L571.51,119.58H566.61Z" fill="none" stroke="#333" stroke-width="0.75"/>
<path d="M580.77,113.43L583.22,118.08H578.32Z" fill="none" stroke="#333" stroke-width="0.75"/>
<path d="M592.49,115.73L594.94,120.38H590.04Z" fill="none" stroke="#333" stroke-width="0.75"/>
<path d="M604.20,115.93L606.65,120.58H601.75Z" fill="none" stroke="#333" stroke-width="0.75"/>
<path d="M615.92,116.23L618.37,120.88H613.47Z" fill="none" stroke="#333" stroke-width="0.75"/>
<path d="M627.64,116.43L630.09,121.08H625.19Z" fill="none" stroke="#333" stroke-width="0.75"/>
<path d="M639.35,116.43L641.80,121.08H636.90Z" fill="none" stroke="#333" stroke-width="0.75"/>
<path d="M651.07,116.53L653.52,121.18H648.62Z" fill="none" stroke="#333" stroke-width="0.75"/>
<path d="M662.78,116.63L665.23,121.28H660.33Z" fill="none" stroke="#333" stroke-width="0.75"/>
<path d="M674.50,116.73L676.95,121.38H672.05Z" fill="none" stroke="#333" stroke-width="0.75"/>
<path d="M381.60,40.70L387.46,57.80L393.32,60.50L399.17,56.20L405.03,57.70L410.89,74.00L416.75,96.10L422.61,112.50L428.46,116.40L434.32,117.30L440.18,117.70L446.04,119.00L451.90,119.20L457.75,119.20L463.61,119.30L469.47,119.40L475.33,119.50L481.19,119.60L487.04,119.70L492.90,119.80L498.76,119.90L504.62,120.00L510.48,120.00L516.33,120.10L522.19,120.20L528.05,120.30L533.91,120.30L539.77,120.40L545.62,120.40L551.48,120.50L557.34,120.50L563.20,120.50L569.06,120.60L574.91,120.60L580.77,120.60L586.63,120.70L592.49,120.70L598.35,120.70L604.20,120.80L610.06,120.80L615.92,120.80L621.78,120.90L627.64,120.90L633.49,120.90L639.35,121.00L645.21,121.00L651.07,121.00L656.93,121.00L662.78,121.00L668.64,121.00L674.50,121.00" fill="none" stroke="#7a2a68" stroke-width="0.8" stroke-linejoin="round"/>
<path d="M381.6,38.0L384.3,40.7L381.6,43.400000000000006L378.90000000000003,40.7Z" fill="#67074a"/>
<path d="M393.32,57.8L396.02,60.5L393.32,63.2L390.62,60.5Z" fill="#67074a"/>
<path d="M405.03,55.0L407.72999999999996,57.7L405.03,60.400000000000006L402.33,57.7Z" fill="#67074a"/>
<path d="M416.75,93.39999999999999L419.45,96.1L416.75,98.8L414.05,96.1Z" fill="#67074a"/>
<path d="M428.46,113.7L431.15999999999997,116.4L428.46,119.10000000000001L425.76,116.4Z" fill="#67074a"/>
<path d="M440.18,115.0L442.88,117.7L440.18,120.4L437.48,117.7Z" fill="#67074a"/>
<path d="M451.9,116.5L454.59999999999997,119.2L451.9,121.9L449.2,119.2Z" fill="#67074a"/>
<path d="M463.61,116.6L466.31,119.3L463.61,122.0L460.91,119.3Z" fill="#67074a"/>
<path d="M475.33,116.8L478.03,119.5L475.33,122.2L472.63,119.5Z" fill="#67074a"/>
<path d="M487.04,117.0L489.74,119.7L487.04,122.4L484.34000000000003,119.7Z" fill="#67074a"/>
<path d="M498.76,117.2L501.46,119.9L498.76,122.60000000000001L496.06,119.9Z" fill="#67074a"/>
<path d="M510.48,117.3L513.1800000000001,120.0L510.48,122.7L507.78000000000003,120.0Z" fill="#67074a"/>
<path d="M522.19,117.5L524.8900000000001,120.2L522.19,122.9L519.49,120.2Z" fill="#67074a"/>
<path d="M533.91,117.6L536.61,120.3L533.91,123.0L531.2099999999999,120.3Z" fill="#67074a"/>
<path d="M545.62,117.7L548.32,120.4L545.62,123.10000000000001L542.92,120.4Z" fill="#67074a"/>
<path d="M557.34,117.8L560.0400000000001,120.5L557.34,123.2L554.64,120.5Z" fill="#67074a"/>
<path d="M569.06,117.89999999999999L571.76,120.6L569.06,123.3L566.3599999999999,120.6Z" fill="#67074a"/>
<path d="M580.77,117.89999999999999L583.47,120.6L580.77,123.3L578.0699999999999,120.6Z" fill="#67074a"/>
<path d="M592.49,118.0L595.19,120.7L592.49,123.4L589.79,120.7Z" fill="#67074a"/>
<path d="M604.2,118.1L606.9000000000001,120.8L604.2,123.5L601.5,120.8Z" fill="#67074a"/>
<path d="M615.92,118.1L618.62,120.8L615.92,123.5L613.2199999999999,120.8Z" fill="#67074a"/>
<path d="M627.64,118.2L630.34,120.9L627.64,123.60000000000001L624.9399999999999,120.9Z" fill="#67074a"/>
<path d="M639.35,118.3L642.0500000000001,121.0L639.35,123.7L636.65,121.0Z" fill="#67074a"/>
<path d="M651.07,118.3L653.7700000000001,121.0L651.07,123.7L648.37,121.0Z" fill="#67074a"/>
<path d="M662.78,118.3L665.48,121.0L662.78,123.7L660.0799999999999,121.0Z" fill="#67074a"/>
<path d="M674.5,118.3L677.2,121.0L674.5,123.7L671.8,121.0Z" fill="#67074a"/>
<path d="M566.3,18.0H578.8" stroke="#b050e8" stroke-width="0.9"/>
<path d="M563.80,18.00h5.00M566.30,15.50v5.00M564.42,16.12l3.75,3.75M564.42,19.88l3.75,-3.75" stroke="#9400d3" stroke-width="0.75" fill="none"/><circle cx="566.30" cy="18.00" r="0.7" fill="#9400d3"/>
<path d="M576.30,18.00h5.00M578.80,15.50v5.00M576.92,16.12l3.75,3.75M576.92,19.88l3.75,-3.75" stroke="#9400d3" stroke-width="0.75" fill="none"/><circle cx="578.80" cy="18.00" r="0.7" fill="#9400d3"/>
<text x="584.4" y="21.3" font-size="10.5" text-anchor="start" font-weight="normal" >mean BL (cLDF)</text>
<path d="M566.3,27.9H578.8" stroke="#90d090" stroke-width="0.9"/>
<rect x="564.0999999999999" y="25.7" width="4.4" height="4.4" fill="#00a000"/>
<rect x="576.5999999999999" y="25.7" width="4.4" height="4.4" fill="#00a000"/>
<text x="584.4" y="31.2" font-size="10.5" text-anchor="start" font-weight="normal" >mean BL (aLDF)</text>
<path d="M566.3,37.5H578.8" stroke="#444" stroke-width="0.9"/>
<path d="M566.30,34.93L568.75,39.58H563.85Z" fill="none" stroke="#333" stroke-width="0.75"/>
<path d="M578.80,34.93L581.25,39.58H576.35Z" fill="none" stroke="#333" stroke-width="0.75"/>
<text x="584.4" y="40.8" font-size="10.5" text-anchor="start" font-weight="normal" >median BL (cLDF)</text>
<path d="M566.3,47.2H578.8" stroke="#7a2a68" stroke-width="0.9"/>
<path d="M566.3,44.5L569.0,47.2L566.3,49.900000000000006L563.5999999999999,47.2Z" fill="#67074a"/>
<path d="M578.8,44.5L581.5,47.2L578.8,49.900000000000006L576.0999999999999,47.2Z" fill="#67074a"/>
<text x="584.4" y="50.5" font-size="10.5" text-anchor="start" font-weight="normal" >median BL (aLDF)</text>
<path d="M31.6,174.6H214.2V271.6H31.6Z" fill="none" stroke="#6e6e6e" stroke-width="1"/>
<path d="M31.60,271.6v-6.4M31.60,174.6v6.4M38.90,271.6v-3.2M38.90,174.6v3.2M46.21,271.6v-3.2M46.21,174.6v3.2M53.51,271.6v-3.2M53.51,174.6v3.2M60.82,271.6v-3.2M60.82,174.6v3.2M68.12,271.6v-6.4M68.12,174.6v6.4M75.42,271.6v-3.2M75.42,174.6v3.2M82.73,271.6v-3.2M82.73,174.6v3.2M90.03,271.6v-3.2M90.03,174.6v3.2M97.34,271.6v-3.2M97.34,174.6v3.2M104.64,271.6v-6.4M104.64,174.6v6.4M111.94,271.6v-3.2M111.94,174.6v3.2M119.25,271.6v-3.2M119.25,174.6v3.2M126.55,271.6v-3.2M126.55,174.6v3.2M133.86,271.6v-3.2M133.86,174.6v3.2M141.16,271.6v-6.4M141.16,174.6v6.4M148.46,271.6v-3.2M148.46,174.6v3.2M155.77,271.6v-3.2M155.77,174.6v3.2M163.07,271.6v-3.2M163.07,174.6v3.2M170.38,271.6v-3.2M170.38,174.6v3.2M177.68,271.6v-6.4M177.68,174.6v6.4M184.98,271.6v-3.2M184.98,174.6v3.2M192.29,271.6v-3.2M192.29,174.6v3.2M199.59,271.6v-3.2M199.59,174.6v3.2M206.90,271.6v-3.2M206.90,174.6v3.2M214.20,271.6v-6.4M214.20,174.6v6.4M31.6,271.60h6.4M31.6,261.90h3.2M31.6,252.20h3.2M31.6,242.50h3.2M31.6,232.80h3.2M31.6,223.10h6.4M31.6,213.40h3.2M31.6,203.70h3.2M31.6,194.00h3.2M31.6,184.30h3.2M31.6,174.60h6.4" stroke="#6e6e6e" stroke-width="1" fill="none"/>
<text x="31.60" y="281.7" font-size="10" text-anchor="middle" font-weight="normal" >0</text>
<text x="68.12" y="281.7" font-size="10" text-anchor="middle" font-weight="normal" >2</text>
<text x="104.64" y="281.7" font-size="10" text-anchor="middle" font-weight="normal" >4</text>
<text x="141.16" y="281.7" font-size="10" text-anchor="middle" font-weight="normal" >6</text>
<text x="177.68" y="281.7" font-size="10" text-anchor="middle" font-weight="normal" >8</text>
<text x="214.20" y="281.7" font-size="10" text-anchor="middle" font-weight="normal" >10</text>
<text x="28.90" y="275.20" font-size="9.9" text-anchor="end" font-weight="normal" >0</text>
<text x="28.90" y="226.70" font-size="9.9" text-anchor="end" font-weight="normal" >0.2</text>
<text x="28.90" y="178.20" font-size="9.9" text-anchor="end" font-weight="normal" >0.4</text>
<text x="123.1" y="293.9" font-size="13.5" text-anchor="middle" font-weight="normal" >LFP burst length, s</text>
<text transform="translate(10.5,222.5) rotate(-90)" font-size="13.4" text-anchor="middle">relative frequency</text>
<text x="200.1" y="191.0" font-size="15.5" text-anchor="start" font-weight="bold" >C</text>
<path d="M263.4,174.6H445.5V271.6H263.4Z" fill="none" stroke="#6e6e6e" stroke-width="1"/>
<path d="M263.40,271.6v-6.4M263.40,174.6v6.4M270.68,271.6v-3.2M270.68,174.6v3.2M277.97,271.6v-3.2M277.97,174.6v3.2M285.25,271.6v-3.2M285.25,174.6v3.2M292.54,271.6v-3.2M292.54,174.6v3.2M299.82,271.6v-6.4M299.82,174.6v6.4M307.10,271.6v-3.2M307.10,174.6v3.2M314.39,271.6v-3.2M314.39,174.6v3.2M321.67,271.6v-3.2M321.67,174.6v3.2M328.96,271.6v-3.2M328.96,174.6v3.2M336.24,271.6v-6.4M336.24,174.6v6.4M343.52,271.6v-3.2M343.52,174.6v3.2M350.81,271.6v-3.2M350.81,174.6v3.2M358.09,271.6v-3.2M358.09,174.6v3.2M365.38,271.6v-3.2M365.38,174.6v3.2M372.66,271.6v-6.4M372.66,174.6v6.4M379.94,271.6v-3.2M379.94,174.6v3.2M387.23,271.6v-3.2M387.23,174.6v3.2M394.51,271.6v-3.2M394.51,174.6v3.2M401.80,271.6v-3.2M401.80,174.6v3.2M409.08,271.6v-6.4M409.08,174.6v6.4M416.36,271.6v-3.2M416.36,174.6v3.2M423.65,271.6v-3.2M423.65,174.6v3.2M430.93,271.6v-3.2M430.93,174.6v3.2M438.22,271.6v-3.2M438.22,174.6v3.2M445.50,271.6v-6.4M445.50,174.6v6.4M263.4,271.60h6.4M263.4,261.90h3.2M263.4,252.20h3.2M263.4,242.50h3.2M263.4,232.80h3.2M263.4,223.10h6.4M263.4,213.40h3.2M263.4,203.70h3.2M263.4,194.00h3.2M263.4,184.30h3.2M263.4,174.60h6.4" stroke="#6e6e6e" stroke-width="1" fill="none"/>
<text x="263.40" y="281.7" font-size="10" text-anchor="middle" font-weight="normal" >0</text>
<text x="299.82" y="281.7" font-size="10" text-anchor="middle" font-weight="normal" >2</text>
<text x="336.24" y="281.7" font-size="10" text-anchor="middle" font-weight="normal" >4</text>
<text x="372.66" y="281.7" font-size="10" text-anchor="middle" font-weight="normal" >6</text>
<text x="409.08" y="281.7" font-size="10" text-anchor="middle" font-weight="normal" >8</text>
<text x="445.50" y="281.7" font-size="10" text-anchor="middle" font-weight="normal" >10</text>
<text x="260.70" y="275.20" font-size="9.9" text-anchor="end" font-weight="normal" >0</text>
<text x="260.70" y="226.70" font-size="9.9" text-anchor="end" font-weight="normal" >0.2</text>
<text x="260.70" y="178.20" font-size="9.9" text-anchor="end" font-weight="normal" >0.4</text>
<text x="354.65" y="293.9" font-size="13.5" text-anchor="middle" font-weight="normal" >LFP burst length, s</text>
<text transform="translate(242.3,222.5) rotate(-90)" font-size="13.4" text-anchor="middle">relative frequency</text>
<text x="432.5" y="190.9" font-size="15.5" text-anchor="start" font-weight="bold" >D</text>
<path d="M496.4,174.6H679.2V271.6H496.4Z" fill="none" stroke="#6e6e6e" stroke-width="1"/>
<path d="M496.40,271.6v-6.4M496.40,174.6v6.4M503.71,271.6v-3.2M503.71,174.6v3.2M511.02,271.6v-3.2M511.02,174.6v3.2M518.34,271.6v-3.2M518.34,174.6v3.2M525.65,271.6v-3.2M525.65,174.6v3.2M532.96,271.6v-6.4M532.96,174.6v6.4M540.27,271.6v-3.2M540.27,174.6v3.2M547.58,271.6v-3.2M547.58,174.6v3.2M554.90,271.6v-3.2M554.90,174.6v3.2M562.21,271.6v-3.2M562.21,174.6v3.2M569.52,271.6v-6.4M569.52,174.6v6.4M576.83,271.6v-3.2M576.83,174.6v3.2M584.14,271.6v-3.2M584.14,174.6v3.2M591.46,271.6v-3.2M591.46,174.6v3.2M598.77,271.6v-3.2M598.77,174.6v3.2M606.08,271.6v-6.4M606.08,174.6v6.4M613.39,271.6v-3.2M613.39,174.6v3.2M620.70,271.6v-3.2M620.70,174.6v3.2M628.02,271.6v-3.2M628.02,174.6v3.2M635.33,271.6v-3.2M635.33,174.6v3.2M642.64,271.6v-6.4M642.64,174.6v6.4M649.95,271.6v-3.2M649.95,174.6v3.2M657.26,271.6v-3.2M657.26,174.6v3.2M664.58,271.6v-3.2M664.58,174.6v3.2M671.89,271.6v-3.2M671.89,174.6v3.2M679.20,271.6v-6.4M679.20,174.6v6.4M496.4,271.60h6.4M496.4,261.90h3.2M496.4,252.20h3.2M496.4,242.50h3.2M496.4,232.80h3.2M496.4,223.10h6.4M496.4,213.40h3.2M496.4,203.70h3.2M496.4,194.00h3.2M496.4,184.30h3.2M496.4,174.60h6.4" stroke="#6e6e6e" stroke-width="1" fill="none"/>
<text x="496.40" y="281.7" font-size="10" text-anchor="middle" font-weight="normal" >0</text>
<text x="532.96" y="281.7" font-size="10" text-anchor="middle" font-weight="normal" >2</text>
<text x="569.52" y="281.7" font-size="10" text-anchor="middle" font-weight="normal" >4</text>
<text x="606.08" y="281.7" font-size="10" text-anchor="middle" font-weight="normal" >6</text>
<text x="642.64" y="281.7" font-size="10" text-anchor="middle" font-weight="normal" >8</text>
<text x="679.20" y="281.7" font-size="10" text-anchor="middle" font-weight="normal" >10</text>
<text x="493.70" y="275.20" font-size="9.9" text-anchor="end" font-weight="normal" >0</text>
<text x="493.70" y="226.70" font-size="9.9" text-anchor="end" font-weight="normal" >0.2</text>
<text x="493.70" y="178.20" font-size="9.9" text-anchor="end" font-weight="normal" >0.4</text>
<text x="588.0" y="293.9" font-size="13.5" text-anchor="middle" font-weight="normal" >LFP burst length, s</text>
<text transform="translate(475.3,222.5) rotate(-90)" font-size="13.4" text-anchor="middle">relative frequency</text>
<text x="666.8" y="190.9" font-size="15.5" text-anchor="start" font-weight="bold" >E</text>
<path d="M36.82,271.6V258.00H42.03V271.6ZM42.03,271.6V255.30H47.25V271.6ZM47.25,271.6V252.20H52.47V271.6ZM52.47,271.6V253.10H57.69V271.6ZM57.69,271.6V252.00H62.90V271.6ZM62.90,271.6V261.10H68.12V271.6ZM68.12,271.6V266.90H73.34V271.6ZM73.34,271.6V260.60H78.55V271.6ZM78.55,271.6V264.80H83.77V271.6ZM83.77,271.6V269.30H88.99V271.6ZM88.99,271.6V265.20H94.21V271.6ZM94.21,271.6V266.20H99.42V271.6ZM99.42,271.6V269.60H104.64V271.6ZM104.64,271.6V266.20H109.86V271.6ZM109.86,271.6V266.20H115.07V271.6ZM115.07,271.6V269.30H120.29V271.6ZM120.29,271.6V267.50H125.51V271.6ZM125.51,271.6V259.20H130.73V271.6ZM130.73,271.6V269.30H135.94V271.6ZM135.94,271.6V271.00H141.16V271.6ZM141.16,271.6V266.30H146.38V271.6ZM146.38,271.6V269.30H151.59V271.6ZM151.59,271.6V269.30H156.81V271.6ZM156.81,271.6V267.70H162.03V271.6ZM162.03,271.6V262.40H167.25V271.6ZM167.25,271.6V269.00H172.46V271.6ZM182.90,271.6V269.00H188.11V271.6ZM188.11,271.6V266.30H193.33V271.6ZM198.55,271.6V270.00H203.77V271.6ZM203.77,271.6V270.00H208.98V271.6ZM208.98,271.6V263.20H214.20V271.6Z" fill="url(#hatch)" stroke="none"/>
<path d="M36.82,271.6V258.00H42.03V271.6M42.03,271.6V255.30H47.25V271.6M47.25,271.6V252.20H52.47V271.6M52.47,271.6V253.10H57.69V271.6M57.69,271.6V252.00H62.90V271.6M62.90,271.6V261.10H68.12V271.6M68.12,271.6V266.90H73.34V271.6M73.34,271.6V260.60H78.55V271.6M78.55,271.6V264.80H83.77V271.6M83.77,271.6V269.30H88.99V271.6M88.99,271.6V265.20H94.21V271.6M94.21,271.6V266.20H99.42V271.6M99.42,271.6V269.60H104.64V271.6M104.64,271.6V266.20H109.86V271.6M109.86,271.6V266.20H115.07V271.6M115.07,271.6V269.30H120.29V271.6M120.29,271.6V267.50H125.51V271.6M125.51,271.6V259.20H130.73V271.6M130.73,271.6V269.30H135.94V271.6M135.94,271.6V271.00H141.16V271.6M141.16,271.6V266.30H146.38V271.6M146.38,271.6V269.30H151.59V271.6M151.59,271.6V269.30H156.81V271.6M156.81,271.6V267.70H162.03V271.6M162.03,271.6V262.40H167.25V271.6M167.25,271.6V269.00H172.46V271.6M182.90,271.6V269.00H188.11V271.6M188.11,271.6V266.30H193.33V271.6M198.55,271.6V270.00H203.77V271.6M203.77,271.6V270.00H208.98V271.6M208.98,271.6V263.20H214.20V271.6" fill="none" stroke="#9400d3" stroke-width="1"/>
<path d="M31.60,271.6V251.30H36.82V271.6M36.82,271.6V222.00H42.03V271.6M42.03,271.6V237.50H47.25V271.6M47.25,271.6V238.40H52.47V271.6M52.47,271.6V250.70H57.69V271.6M57.69,271.6V250.70H62.90V271.6M62.90,271.6V261.50H68.12V271.6M68.12,271.6V261.00H73.34V271.6M73.34,271.6V266.20H78.55V271.6M78.55,271.6V265.70H83.77V271.6M83.77,271.6V265.20H88.99V271.6M88.99,271.6V267.90H94.21V271.6M94.21,271.6V269.40H99.42V271.6M99.42,271.6V269.40H104.64V271.6M104.64,271.6V267.60H109.86V271.6M109.86,271.6V266.80H115.07V271.6M115.07,271.6V269.40H120.29V271.6M120.29,271.6V269.80H125.51V271.6M125.51,271.6V270.20H130.73V271.6M130.73,271.6V270.20H135.94V271.6M135.94,271.6V270.40H141.16V271.6M141.16,271.6V270.20H146.38V271.6M146.38,271.6V270.40H151.59V271.6M151.59,271.00H156.81M156.81,271.00H162.03M162.03,271.00H167.25M167.25,271.00H172.46M172.46,271.00H177.68M177.68,271.00H182.90M182.90,271.00H188.11M188.11,271.00H193.33M193.33,271.00H198.55M198.55,271.00H203.77M203.77,271.00H208.98M208.98,271.00H214.20" fill="none" stroke="#ff0000" stroke-width="1"/>
<rect x="53.30" y="182.8" width="137.8" height="24.1" fill="none" stroke="#b0b0b0" stroke-width="0.8" stroke-dasharray="1.6,1.6"/>
<path d="M56.20,188.9h15" stroke="#9400d3" stroke-width="1"/>
<path d="M56.20,200.0h15" stroke="#ff0000" stroke-width="1"/>
<text x="75.80" y="192.2" font-size="9.6" text-anchor="start" font-weight="normal" >cLDF (K = 40, GW = 0 ms)</text>
<text x="75.80" y="203.4" font-size="9.6" text-anchor="start" font-weight="normal" >aLDF (K = 40, GW = 0 ms)</text>
<path d="M263.40,271.6V263.20H268.61V271.6ZM268.61,271.6V229.30H273.81V271.6ZM273.81,271.6V251.50H279.02V271.6ZM279.02,271.6V250.80H284.22V271.6ZM284.22,271.6V259.80H289.43V271.6ZM289.43,271.6V255.60H294.63V271.6ZM294.63,271.6V261.20H299.84V271.6ZM299.84,271.6V259.00H305.05V271.6ZM305.05,271.6V260.70H310.25V271.6ZM310.25,271.6V265.30H315.46V271.6ZM315.46,271.6V263.10H320.66V271.6ZM320.66,271.6V264.80H325.87V271.6ZM325.87,271.6V270.40H331.07V271.6ZM331.07,271.6V269.40H336.28V271.6ZM336.28,271.6V269.40H341.49V271.6ZM341.49,271.6V268.40H346.69V271.6ZM346.69,271.6V265.80H351.90V271.6ZM351.90,271.6V270.40H357.10V271.6ZM357.10,271.6V268.90H362.31V271.6ZM362.31,271.6V269.90H367.51V271.6ZM367.51,271.6V267.00H372.72V271.6ZM372.72,271.6V266.70H377.93V271.6ZM377.93,271.6V269.20H383.13V271.6ZM388.34,271.6V269.20H393.54V271.6ZM398.75,271.6V267.40H403.95V271.6ZM409.16,271.6V268.40H414.37V271.6ZM414.37,271.6V266.70H419.57V271.6ZM419.57,271.6V269.20H424.78V271.6ZM424.78,271.6V268.60H429.98V271.6ZM429.98,271.6V269.20H435.19V271.6ZM440.39,271.6V269.90H445.60V271.6Z" fill="url(#hatch)" stroke="none"/>
<path d="M263.40,271.6V263.20H268.61V271.6M268.61,271.6V229.30H273.81V271.6M273.81,271.6V251.50H279.02V271.6M279.02,271.6V250.80H284.22V271.6M284.22,271.6V259.80H289.43V271.6M289.43,271.6V255.60H294.63V271.6M294.63,271.6V261.20H299.84V271.6M299.84,271.6V259.00H305.05V271.6M305.05,271.6V260.70H310.25V271.6M310.25,271.6V265.30H315.46V271.6M315.46,271.6V263.10H320.66V271.6M320.66,271.6V264.80H325.87V271.6M325.87,271.6V270.40H331.07V271.6M331.07,271.6V269.40H336.28V271.6M336.28,271.6V269.40H341.49V271.6M341.49,271.6V268.40H346.69V271.6M346.69,271.6V265.80H351.90V271.6M351.90,271.6V270.40H357.10V271.6M357.10,271.6V268.90H362.31V271.6M362.31,271.6V269.90H367.51V271.6M367.51,271.6V267.00H372.72V271.6M372.72,271.6V266.70H377.93V271.6M377.93,271.6V269.20H383.13V271.6M388.34,271.6V269.20H393.54V271.6M398.75,271.6V267.40H403.95V271.6M409.16,271.6V268.40H414.37V271.6M414.37,271.6V266.70H419.57V271.6M419.57,271.6V269.20H424.78V271.6M424.78,271.6V268.60H429.98V271.6M429.98,271.6V269.20H435.19V271.6M440.39,271.6V269.90H445.60V271.6" fill="none" stroke="#9400d3" stroke-width="1"/>
<path d="M263.40,271.6V252.30H268.61V271.6M268.61,271.6V213.30H273.81V271.6M273.81,271.6V222.60H279.02V271.6M279.02,271.6V230.60H284.22V271.6M284.22,271.6V246.30H289.43V271.6M289.43,271.6V247.20H294.63V271.6M294.63,271.6V261.50H299.84V271.6M299.84,271.6V266.00H305.05V271.6M305.05,271.6V269.10H310.25V271.6M310.25,270.90H315.46M315.46,270.90H320.66M320.66,270.90H325.87M325.87,270.90H331.07M331.07,270.90H336.28M336.28,270.90H341.49M341.49,270.90H346.69M346.69,270.90H351.90M351.90,270.90H357.10M357.10,270.90H362.31M362.31,270.90H367.51M367.51,270.90H372.72M372.72,270.90H377.93M377.93,270.90H383.13M383.13,270.90H388.34M388.34,270.90H393.54M393.54,270.90H398.75M398.75,270.90H403.95M403.95,270.90H409.16M409.16,270.90H414.37M414.37,270.90H419.57M419.57,270.90H424.78M424.78,270.90H429.98M429.98,270.90H435.19M435.19,270.90H440.39M440.39,270.90H445.60" fill="none" stroke="#0c900c" stroke-width="1"/>
<rect x="284.30" y="182.8" width="137.8" height="24.1" fill="none" stroke="#b0b0b0" stroke-width="0.8" stroke-dasharray="1.6,1.6"/>
<path d="M287.20,188.9h15" stroke="#9400d3" stroke-width="1"/>
<path d="M287.20,200.0h15" stroke="#0c900c" stroke-width="1"/>
<text x="306.80" y="192.2" font-size="9.6" text-anchor="start" font-weight="normal" >cLDF (K = 40, GW = 2 ms)</text>
<text x="306.80" y="203.4" font-size="9.6" text-anchor="start" font-weight="normal" >aLDF (K = 40, GW = 2 ms)</text>
<path d="M496.40,271.6V249.50H501.62V271.6ZM501.62,271.6V213.30H506.84V271.6ZM506.84,271.6V233.20H512.06V271.6ZM512.06,271.6V247.80H517.28V271.6ZM517.28,271.6V250.40H522.50V271.6ZM522.50,271.6V258.40H527.72V271.6ZM527.72,271.6V261.90H532.94V271.6ZM532.94,271.6V263.30H538.16V271.6ZM538.16,271.6V267.70H543.38V271.6ZM543.38,271.6V266.30H548.60V271.6ZM548.60,271.6V264.10H553.82V271.6ZM553.82,271.6V267.90H559.04V271.6ZM559.04,271.6V265.50H564.26V271.6ZM564.26,271.6V269.90H569.48V271.6ZM574.70,271.6V269.90H579.92V271.6ZM579.92,271.6V268.90H585.14V271.6ZM585.14,271.6V268.90H590.36V271.6ZM600.80,271.6V270.60H606.02V271.6ZM606.02,271.6V270.60H611.24V271.6ZM611.24,271.6V270.60H616.46V271.6ZM616.46,271.6V270.60H621.68V271.6ZM621.68,271.6V270.60H626.90V271.6ZM626.90,271.6V270.60H632.12V271.6ZM632.12,271.6V270.60H637.34V271.6ZM637.34,271.6V270.60H642.56V271.6ZM642.56,271.6V270.60H647.78V271.6ZM647.78,271.6V270.60H653.00V271.6ZM653.00,271.6V270.60H658.22V271.6ZM658.22,271.6V270.60H663.44V271.6ZM663.44,271.6V270.60H668.66V271.6ZM668.66,271.6V270.60H673.88V271.6ZM673.88,271.6V270.60H679.10V271.6Z" fill="url(#hatch)" stroke="none"/>
<path d="M496.40,271.6V249.50H501.62V271.6M501.62,271.6V213.30H506.84V271.6M506.84,271.6V233.20H512.06V271.6M512.06,271.6V247.80H517.28V271.6M517.28,271.6V250.40H522.50V271.6M522.50,271.6V258.40H527.72V271.6M527.72,271.6V261.90H532.94V271.6M532.94,271.6V263.30H538.16V271.6M538.16,271.6V267.70H543.38V271.6M543.38,271.6V266.30H548.60V271.6M548.60,271.6V264.10H553.82V271.6M553.82,271.6V267.90H559.04V271.6M559.04,271.6V265.50H564.26V271.6M564.26,271.6V269.90H569.48V271.6M574.70,271.6V269.90H579.92V271.6M579.92,271.6V268.90H585.14V271.6M585.14,271.6V268.90H590.36V271.6M600.80,271.6V270.60H606.02V271.6M606.02,271.6V270.60H611.24V271.6M611.24,271.6V270.60H616.46V271.6M616.46,271.6V270.60H621.68V271.6M621.68,271.6V270.60H626.90V271.6M626.90,271.6V270.60H632.12V271.6M632.12,271.6V270.60H637.34V271.6M637.34,271.6V270.60H642.56V271.6M642.56,271.6V270.60H647.78V271.6M647.78,271.6V270.60H653.00V271.6M653.00,271.6V270.60H658.22V271.6M658.22,271.6V270.60H663.44V271.6M663.44,271.6V270.60H668.66V271.6M668.66,271.6V270.60H673.88V271.6M673.88,271.6V270.60H679.10V271.6" fill="none" stroke="#9400d3" stroke-width="1"/>
<path d="M496.40,271.6V232.30H501.62V271.6M501.62,271.6V181.40H506.84V271.6M506.84,271.6V208.60H512.06V271.6M512.06,271.6V245.20H517.28V271.6M517.28,271.6V260.10H522.50V271.6M522.50,271.6V266.30H527.72V271.6M527.72,271.6V268.40H532.94V271.6M532.94,271.6V269.80H538.16V271.6M538.16,270.90H543.38M543.38,270.90H548.60M548.60,270.90H553.82M553.82,270.90H559.04M559.04,270.90H564.26M564.26,270.90H569.48M569.48,270.90H574.70M574.70,270.90H579.92M579.92,270.90H585.14M585.14,270.90H590.36M590.36,270.90H595.58M595.58,270.90H600.80M600.80,270.90H606.02M606.02,270.90H611.24M611.24,270.90H616.46M616.46,270.90H621.68M621.68,270.90H626.90M626.90,270.90H632.12M632.12,270.90H637.34M637.34,270.90H642.56M642.56,270.90H647.78M647.78,270.90H653.00M653.00,270.90H658.22M658.22,270.90H663.44M663.44,270.90H668.66M668.66,270.90H673.88M673.88,270.90H679.10" fill="none" stroke="#0000ff" stroke-width="1"/>
<rect x="517.40" y="182.8" width="137.8" height="24.1" fill="none" stroke="#b0b0b0" stroke-width="0.8" stroke-dasharray="1.6,1.6"/>
<path d="M520.30,188.9h15" stroke="#9400d3" stroke-width="1"/>
<path d="M520.30,200.0h15" stroke="#0000ff" stroke-width="1"/>
<text x="539.90" y="192.2" font-size="9.6" text-anchor="start" font-weight="normal" >cLDF (K = 40, GW = 5 ms)</text>
<text x="539.90" y="203.4" font-size="9.6" text-anchor="start" font-weight="normal" >aLDF (K = 40, GW = 5 ms)</text>
</svg></body></html>
